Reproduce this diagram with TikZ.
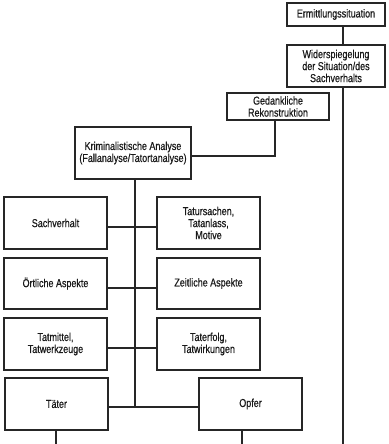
\documentclass[tikz,border=0pt]{standalone}
\usepackage{fontspec}
\setmainfont[FakeStretch=0.78,FakeBold=0.6]{Liberation Sans}
\begin{document}
\begin{tikzpicture}[x=1pt,y=-1pt,
  box/.style={draw=black!85,line width=1.1pt,minimum width=103pt,minimum height=52pt,
    align=center,inner sep=0pt,font=\fontsize{11.5}{12}\selectfont,text=black!90},
  conn/.style={draw=black!85,line width=1.1pt}]
\useasboundingbox (0,0) rectangle (388,444);
\node[box,minimum width=98pt,minimum height=23pt] (E) at (336,14.5) {Ermittlungssituation};
\node[box,minimum width=98pt,minimum height=42pt] (W) at (336,66) {Widerspiegelung\\der Situation/des\\Sachverhalts};
\node[box,minimum width=102pt,minimum height=27pt] (G) at (278,106.5) {Gedankliche\\Rekonstruktion};
\node[box,minimum width=116pt,minimum height=52pt] (K) at (133,153) {Kriminalistische Analyse\\(Fallanalyse/Tatortanalyse)};
\node[box] (S) at (55.5,223) {Sachverhalt};
\node[box] (T) at (208.5,223) {Tatursachen,\\Tatanlass,\\Motive};
\node[box,minimum height=51pt] (O) at (55.5,283.5) {Örtliche Aspekte};
\node[box,minimum height=51pt] (Z) at (208.5,283.5) {Zeitliche Aspekte};
\node[box] (M) at (55.5,344) {Tatmittel,\\Tatwerkzeuge};
\node[box] (F) at (208.5,344) {Taterfolg,\\Tatwirkungen};
\node[box] (TA) at (56.5,404) {Täter};
\node[box] (OP) at (250.5,404) {Opfer};
\coordinate (vr) at (343,444);
\coordinate (vg) at (275,156);
\coordinate (vc) at (135,407);
\coordinate (bt) at (56,444);
\coordinate (bo) at (242,444);
\draw[conn] (E.south -| vr) -- (W.north -| vr);
\draw[conn] (W.south -| vr) -- (vr);
\draw[conn] (G.south -| vg) -- (vg) -- (vg -| K.east);
\draw[conn] (K.south -| vc) -- (vc);
\draw[conn] (S.east |- 0,227) -- (T.west |- 0,227);
\draw[conn] (O.east |- 0,288) -- (Z.west |- 0,288);
\draw[conn] (M.east |- 0,348) -- (F.west |- 0,348);
\draw[conn] (TA.east |- vc) -- (OP.west |- vc);
\draw[conn] (TA.south -| bt) -- (bt);
\draw[conn] (OP.south -| bo) -- (bo);
\end{tikzpicture}
\end{document}
